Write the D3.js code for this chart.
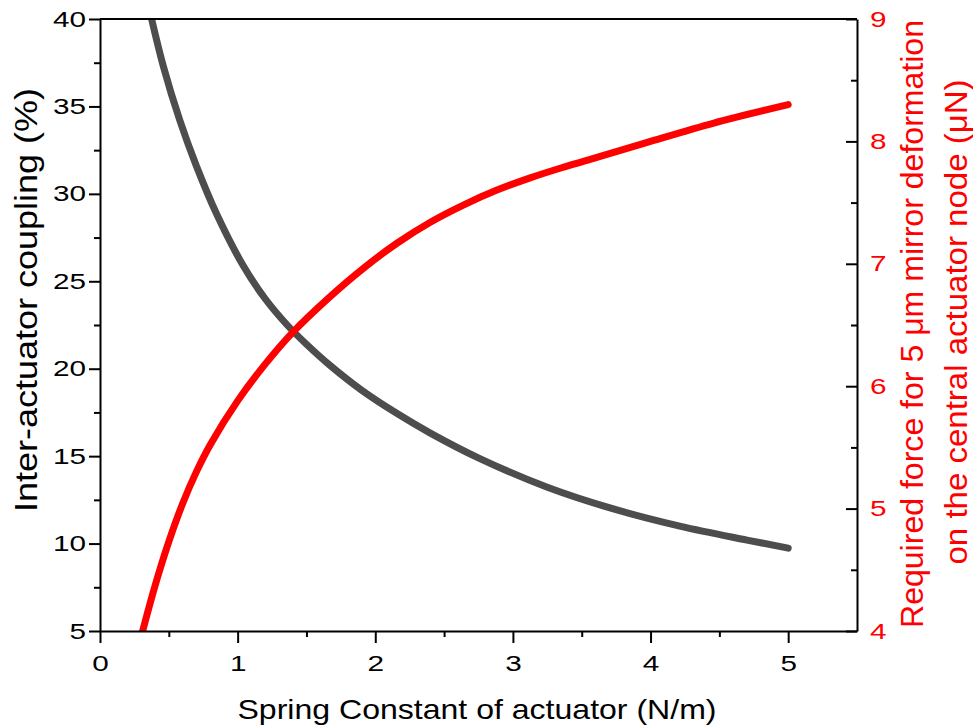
<!DOCTYPE html>
<html>
<head>
<meta charset="utf-8">
<script src="https://cdn.jsdelivr.net/npm/d3@7"></script>
<style>
  html, body { margin: 0; padding: 0; background: #fff; }
  svg { display: block; }
  text { font-family: "Liberation Sans", Arial, sans-serif; }
</style>
</head>
<body>
<svg id="chart" width="973" height="728"></svg>
<script>
// Inter-actuator coupling (%) vs spring constant (N/m)
const kCoupling = [0.375, 0.46, 0.58, 0.70, 0.85, 1.04, 1.20, 1.36, 1.50, 1.67, 1.90, 2.15, 2.40, 2.76, 3.25, 3.73, 4.22, 4.70, 5.00];
const coupling  = [40.0, 37.3, 34.2, 31.6, 28.8, 25.9, 24.0, 22.5, 21.4, 20.2, 18.78, 17.48, 16.32, 14.86, 13.22, 11.98, 10.98, 10.2, 9.74];

// Required force (µN) for 5 µm deformation vs spring constant (N/m)
const kForce = [0.31, 0.40, 0.50, 0.60, 0.70, 0.80, 1.00, 1.20, 1.40, 1.65, 1.91, 2.16, 2.40, 2.64, 2.88, 3.12, 3.37, 3.61, 3.97, 4.46, 5.00];
const force  = [4.00, 4.37, 4.73, 5.04, 5.30, 5.52, 5.88, 6.18, 6.44, 6.71, 6.96, 7.17, 7.34, 7.48, 7.60, 7.70, 7.79, 7.87, 7.99, 8.15, 8.30];

// Tick values
const xTicks = [0, 1, 2, 3, 4, 5];
const xMinor = [0.5, 1.5, 2.5, 3.5, 4.5];
const yLeftTicks = [5, 10, 15, 20, 25, 30, 35, 40];
const yLeftMinor = [7.5, 12.5, 17.5, 22.5, 27.5, 32.5, 37.5];
const yRightTicks = [4, 5, 6, 7, 8, 9];
const yRightMinor = [4.5, 5.5, 6.5, 7.5, 8.5];

const GRAY = "#4d4d4d";
const RED = "#ff0000";
const SX = 1.35; // horizontal glyph stretch for tick labels

const svg = d3.select("#chart");

const x = d3.scaleLinear().domain([0, 5.5]).range([100, 857]);
const yL = d3.scaleLinear().domain([5, 40]).range([631, 19]);
const yR = d3.scaleLinear().domain([4, 9]).range([631, 19]);

function stretch(sel) {
  sel.each(function () {
    const t = d3.select(this);
    const tx = +t.attr("x") || 0;
    const ty = +t.attr("y") || 0;
    t.attr("x", 0).attr("y", 0).attr("transform", `translate(${tx},${ty}) scale(${SX},1)`);
  });
}

function styleAxis(g, color) {
  g.select(".domain").attr("stroke", "#000").attr("stroke-width", 2);
  g.selectAll(".tick line").attr("stroke", "#000").attr("stroke-width", 2);
  g.selectAll(".tick text").attr("fill", color).style("font-size", "22px")
    .style("font-family", '"Liberation Sans", Arial, sans-serif');
}

// Curves, clipped to the plot frame
svg.append("clipPath").attr("id", "plotClip")
  .append("rect").attr("x", x(0)).attr("y", yL(40))
  .attr("width", x(5.5) - x(0)).attr("height", yL(5) - yL(40));

const plot = svg.append("g").attr("clip-path", "url(#plotClip)");

const couplingLine = d3.line()
  .x((d, i) => x(kCoupling[i]))
  .y(d => yL(d))
  .curve(d3.curveCatmullRom.alpha(0.5));

const forceLine = d3.line()
  .x((d, i) => x(kForce[i]))
  .y(d => yR(d))
  .curve(d3.curveCatmullRom.alpha(0.5));

plot.append("path").datum(coupling)
  .attr("d", couplingLine)
  .attr("fill", "none").attr("stroke", GRAY).attr("stroke-width", 7)
  .attr("stroke-linecap", "round").attr("stroke-linejoin", "round");

plot.append("path").datum(force)
  .attr("d", forceLine)
  .attr("fill", "none").attr("stroke", RED).attr("stroke-width", 7)
  .attr("stroke-linecap", "round").attr("stroke-linejoin", "round");

// Top frame line
svg.append("line")
  .attr("x1", x(0)).attr("x2", x(5.5))
  .attr("y1", yL(40)).attr("y2", yL(40))
  .attr("stroke", "#000").attr("stroke-width", 2);

// Bottom axis
const gx = svg.append("g").attr("transform", `translate(0,${yL(5)})`)
  .call(d3.axisBottom(x).tickValues(xTicks).tickFormat(d3.format("d"))
    .tickSizeInner(12).tickSizeOuter(0).tickPadding(12));
styleAxis(gx, "#000");
stretch(gx.selectAll(".tick text"));

const gxm = svg.append("g").attr("transform", `translate(0,${yL(5)})`)
  .call(d3.axisBottom(x).tickValues(xMinor).tickFormat("").tickSizeInner(6).tickSizeOuter(0));
styleAxis(gxm, "#000");
gxm.select(".domain").remove();

// Left axis
const gy = svg.append("g").attr("transform", `translate(${x(0)},0)`)
  .call(d3.axisLeft(yL).tickValues(yLeftTicks).tickFormat(d3.format("d"))
    .tickSizeInner(11).tickSizeOuter(0).tickPadding(3));
styleAxis(gy, "#000");
stretch(gy.selectAll(".tick text"));

const gym = svg.append("g").attr("transform", `translate(${x(0)},0)`)
  .call(d3.axisLeft(yL).tickValues(yLeftMinor).tickFormat("").tickSizeInner(6).tickSizeOuter(0));
styleAxis(gym, "#000");
gym.select(".domain").remove();

// Right axis (ticks point into the plot)
const gr = svg.append("g").attr("transform", `translate(${x(5.5)},0)`)
  .call(d3.axisRight(yR).tickValues(yRightTicks).tickFormat(d3.format("d"))
    .tickSizeInner(-11).tickSizeOuter(0).tickPadding(13));
styleAxis(gr, RED);
stretch(gr.selectAll(".tick text"));

const grm = svg.append("g").attr("transform", `translate(${x(5.5)},0)`)
  .call(d3.axisRight(yR).tickValues(yRightMinor).tickFormat("").tickSizeInner(-6).tickSizeOuter(0));
styleAxis(grm, "#000");
grm.select(".domain").remove();

// Axis titles
svg.append("text")
  .attr("x", 477).attr("y", 719)
  .attr("text-anchor", "middle")
  .attr("textLength", 479).attr("lengthAdjust", "spacingAndGlyphs")
  .style("font-size", "28px").attr("fill", "#000")
  .text("Spring Constant of actuator (N/m)");

svg.append("text")
  .attr("transform", "translate(37,300) rotate(-90)")
  .attr("text-anchor", "middle")
  .attr("textLength", 424).attr("lengthAdjust", "spacingAndGlyphs")
  .style("font-size", "31px").attr("fill", "#000")
  .text("Inter-actuator coupling (%)");

svg.append("text")
  .attr("transform", "translate(923,324) rotate(-90)")
  .attr("text-anchor", "middle")
  .attr("textLength", 608).attr("lengthAdjust", "spacingAndGlyphs")
  .style("font-size", "31px").attr("fill", RED)
  .text("Required force for 5 μm mirror deformation");

svg.append("text")
  .attr("transform", "translate(967,322) rotate(-90)")
  .attr("text-anchor", "middle")
  .attr("textLength", 485).attr("lengthAdjust", "spacingAndGlyphs")
  .style("font-size", "31px").attr("fill", RED)
  .text("on the central actuator node (μN)");
</script>
</body>
</html>
